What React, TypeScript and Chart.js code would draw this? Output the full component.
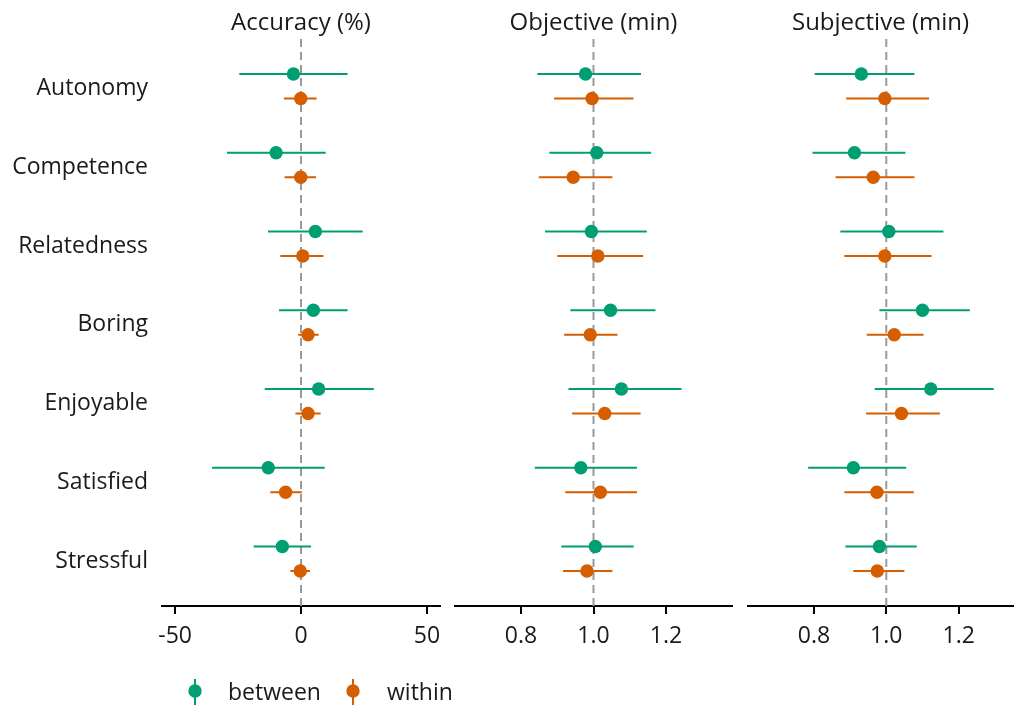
import React, { useEffect, useRef } from "react";
import { Chart, registerables } from "chart.js";
Chart.register(...registerables);

const categories = ["Autonomy", "Competence", "Relatedness", "Boring", "Enjoyable", "Satisfied", "Stressful"];
const seriesNames = ["between", "within"];
const seriesColors = ["#009E73", "#D55E00"];

// [estimate, lower, upper]
const accuracyBetween = [[-3.0, -24.5, 18.5], [-9.9, -29.4, 9.8], [5.7, -13.1, 24.5], [4.9, -8.7, 18.5], [7.0, -14.4, 28.9], [-13.0, -35.3, 9.4], [-7.4, -18.8, 4.0]];
const accuracyWithin = [[-0.1, -6.8, 6.2], [-0.1, -6.5, 6.0], [0.7, -8.2, 8.9], [2.8, -1.1, 7.0], [2.8, -2.2, 7.8], [-6.1, -12.2, 0.3], [-0.3, -4.2, 3.6]];
const objectiveBetween = [[0.978, 0.845, 1.131], [1.009, 0.878, 1.159], [0.994, 0.866, 1.147], [1.047, 0.936, 1.171], [1.077, 0.931, 1.243], [0.965, 0.838, 1.12], [1.005, 0.911, 1.111]];
const objectiveWithin = [[0.996, 0.891, 1.11], [0.944, 0.849, 1.052], [1.012, 0.9, 1.137], [0.991, 0.919, 1.066], [1.031, 0.941, 1.13], [1.019, 0.922, 1.12], [0.982, 0.916, 1.052]];
const subjectiveBetween = [[0.931, 0.802, 1.078], [0.912, 0.796, 1.053], [1.007, 0.873, 1.158], [1.1, 0.981, 1.231], [1.123, 0.968, 1.297], [0.909, 0.784, 1.055], [0.981, 0.887, 1.084]];
const subjectiveWithin = [[0.996, 0.889, 1.118], [0.964, 0.86, 1.078], [0.996, 0.884, 1.125], [1.022, 0.946, 1.103], [1.042, 0.944, 1.148], [0.974, 0.884, 1.076], [0.975, 0.909, 1.05]];

const accuracyTicks = [-50, 0, 50];
const minuteTicks = [0.8, 1.0, 1.2];
const panelTitles = ["Accuracy (%)", "Objective (min)", "Subjective (min)"];
const referenceValues = [0, 1, 1];

Chart.defaults.font.family = '"Open Sans", sans-serif';

const DODGE = 0.155;
const LABEL_NUDGE = 0.03;
const FONT = 23;
const TITLE_FONT = 24;
const TEXT = "#1a1a1a";

type PanelCfg = {
  title: string;
  between: number[][];
  within: number[][];
  ref: number;
  min: number;
  max: number;
  ticks: number[];
  fmt: (v: number) => string;
  showY: boolean;
  left: number;
  width: number;
  padRight: number;
  legend: boolean;
};

const panels: PanelCfg[] = [
  { title: panelTitles[0], between: accuracyBetween, within: accuracyWithin, ref: referenceValues[0], min: -55.2, max: 55.2, ticks: accuracyTicks, fmt: (v) => String(v), showY: true, left: 0, width: 470, padRight: 30, legend: true },
  { title: panelTitles[1], between: objectiveBetween, within: objectiveWithin, ref: referenceValues[1], min: 0.615, max: 1.385, ticks: minuteTicks, fmt: (v) => v.toFixed(1), showY: false, left: 454, width: 279, padRight: 0, legend: false },
  { title: panelTitles[2], between: subjectiveBetween, within: subjectiveWithin, ref: referenceValues[2], min: 0.615, max: 1.353, ticks: minuteTicks, fmt: (v) => v.toFixed(1), showY: false, left: 747, width: 267, padRight: 0, legend: false },
];

function pointsOf(arr: number[][], offset: number) {
  return arr.map((d, i) => ({ x: d[0], y: i + 1 + offset }));
}
function barsOf(arr: number[][], offset: number) {
  const out: { x: number; y: number | null }[] = [];
  arr.forEach((d, i) => {
    out.push({ x: d[1], y: i + 1 + offset });
    out.push({ x: d[2], y: i + 1 + offset });
    out.push({ x: d[2], y: null });
  });
  return out;
}

function Panel({ cfg }: { cfg: PanelCfg }) {
  const ref = useRef<HTMLCanvasElement>(null);
  useEffect(() => {
    const overlay = {
      id: "overlay",
      afterDraw(chart: any) {
        const ctx = chart.ctx;
        const ca = chart.chartArea;
        ctx.save();
        ctx.fillStyle = TEXT;
        ctx.font = `${TITLE_FONT}px "Open Sans", sans-serif`;
        ctx.textAlign = "center";
        ctx.textBaseline = "alphabetic";
        ctx.fillText(cfg.title, (ca.left + ca.right) / 2, 30);
        if (cfg.legend) {
          ctx.font = `${FONT}px "Open Sans", sans-serif`;
          const items = [
            { x: 195, tx: 228 },
            { x: 353, tx: 387 },
          ];
          items.forEach((it, k) => {
            ctx.strokeStyle = seriesColors[k];
            ctx.lineWidth = 2;
            ctx.beginPath();
            ctx.moveTo(it.x, 679);
            ctx.lineTo(it.x, 705);
            ctx.stroke();
            ctx.fillStyle = seriesColors[k];
            ctx.beginPath();
            ctx.arc(it.x, 691, 6.7, 0, Math.PI * 2);
            ctx.fill();
            ctx.fillStyle = TEXT;
            ctx.textAlign = "left";
            ctx.textBaseline = "middle";
            ctx.fillText(seriesNames[k], it.tx, 693);
          });
        }
        ctx.restore();
      },
    };

    const yScale: any = {
      type: "linear",
      reverse: true,
      min: 0.4,
      max: 7.6,
      display: cfg.showY,
      afterBuildTicks: (s: any) => {
        s.ticks = categories.map((_, i) => ({ value: i + 1 + LABEL_NUDGE }));
      },
      ticks: {
        callback: (v: any) => categories[Math.round(Number(v)) - 1],
        font: { size: FONT },
        color: TEXT,
        padding: 14,
        autoSkip: false,
      },
      grid: { display: false, drawTicks: false },
      border: { display: false },
    };
    if (cfg.showY) {
      yScale.afterFit = (s: any) => {
        s.width = 162;
      };
    }

    const chart = new Chart(ref.current!, {
      type: "line",
      data: {
        datasets: [
          {
            label: seriesNames[0],
            data: pointsOf(cfg.between, -DODGE),
            showLine: false,
            pointRadius: 6.7,
            pointBorderWidth: 0,
            pointBackgroundColor: seriesColors[0],
            borderColor: seriesColors[0],
            order: 0,
          },
          {
            label: seriesNames[1],
            data: pointsOf(cfg.within, DODGE),
            showLine: false,
            pointRadius: 6.7,
            pointBorderWidth: 0,
            pointBackgroundColor: seriesColors[1],
            borderColor: seriesColors[1],
            order: 0,
          },
          {
            label: seriesNames[0] + " CI",
            data: barsOf(cfg.between, -DODGE),
            showLine: true,
            spanGaps: false,
            pointRadius: 0,
            borderWidth: 2,
            borderColor: seriesColors[0],
            order: 1,
          },
          {
            label: seriesNames[1] + " CI",
            data: barsOf(cfg.within, DODGE),
            showLine: true,
            spanGaps: false,
            pointRadius: 0,
            borderWidth: 2,
            borderColor: seriesColors[1],
            order: 1,
          },
          {
            label: "reference",
            data: [
              { x: cfg.ref, y: 0.4 },
              { x: cfg.ref, y: 7.6 },
            ],
            showLine: true,
            pointRadius: 0,
            borderWidth: 2,
            borderColor: "#9a9a9a",
            borderDash: [8, 5],
            order: 2,
          },
        ] as any,
      },
      options: {
        animation: false,
        responsive: true,
        maintainAspectRatio: false,
        events: [],
        layout: { autoPadding: false, padding: { top: 39, left: 0, right: cfg.padRight, bottom: 0 } },
        plugins: { legend: { display: false }, tooltip: { enabled: false }, title: { display: false } },
        scales: {
          x: {
            type: "linear",
            min: cfg.min,
            max: cfg.max,
            afterBuildTicks: (s: any) => {
              s.ticks = cfg.ticks.map((v) => ({ value: v }));
            },
            afterFit: (s: any) => {
              s.height = 103;
            },
            ticks: {
              callback: (v: any) => cfg.fmt(Number(v)),
              font: { size: FONT },
              color: TEXT,
              padding: 9,
              maxRotation: 0,
              autoSkip: false,
            },
            grid: { display: true, drawOnChartArea: false, drawTicks: true, tickLength: 8, color: "#000", lineWidth: 2 },
            border: { display: true, color: "#000", width: 2 },
          },
          y: yScale,
        },
      } as any,
      plugins: [overlay],
    });
    return () => chart.destroy();
  }, []);
  return (
    <div style={{ position: "absolute", left: cfg.left, top: 0, width: cfg.width, height: 709 }}>
      <canvas ref={ref} />
    </div>
  );
}

export default function App() {
  return (
    <div style={{ position: "fixed", left: 0, top: 0, width: 1014, height: 709, background: "#fff", overflow: "hidden" }}>
      {panels.map((p, i) => (
        <Panel key={i} cfg={p} />
      ))}
    </div>
  );
}
